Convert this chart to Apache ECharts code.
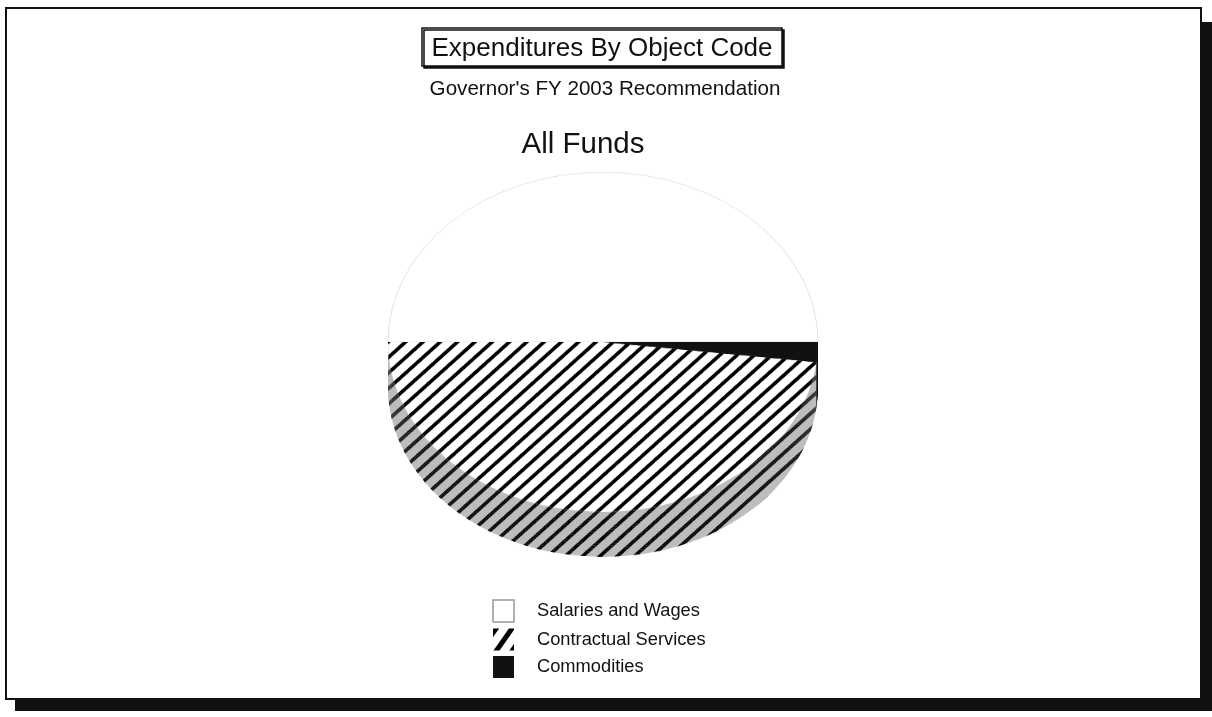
<!DOCTYPE html>
<html>
<head>
<meta charset="utf-8">
<script src="https://cdn.jsdelivr.net/npm/echarts@6/dist/echarts.min.js"></script>
<style>
  html, body { margin: 0; padding: 0; background: #fff; }
  #main { position: absolute; left: 0; top: 0; width: 1212px; height: 717px; }
  /* the pie is drawn round, then flattened into a tilted disc */
  #pie { position: absolute; left: 303px; top: 105px; width: 600px; height: 600px;
         transform: scaleY(0.79); transform-origin: 0 0; }
</style>
</head>
<body>
<div id="main"></div>
<div id="pie"></div>
<script>
// ---- data ----
const categories = ['Salaries and Wages', 'Contractual Services', 'Commodities'];
const shares = [50.0, 48.1, 1.9];   // percent of all funds
const titleText = 'Expenditures By Object Code';
const subtitleText = "Governor's FY 2003 Recommendation";
const fundLabel = 'All Funds';

const FONT = 'Liberation Sans, Arial, sans-serif';

function stripes(angleDeg, thick, gap) {
  return {
    symbol: 'rect', symbolSize: 1, color: '#000',
    dashArrayX: [1, 0], dashArrayY: [thick, gap],
    rotation: -angleDeg * Math.PI / 180
  };
}

// ---- frame, titles and legend ----
const main = echarts.init(document.getElementById('main'), null, { renderer: 'canvas' });

const legendData = categories.map((name, i) => {
  const styles = [
    { color: '#fff', borderColor: '#b0b0b0', borderWidth: 1 },
    { color: '#fff', decal: stripes(55, 5, 8) },
    { color: '#111' }
  ];
  return { name, value: shares[i], itemStyle: styles[i] };
});

main.setOption({
  animation: false,
  graphic: [
    { type: 'rect', z: -10, shape: { x: 15, y: 22, width: 1200, height: 689 }, style: { fill: '#111' } },
    { type: 'rect', z: -9, shape: { x: 6, y: 8, width: 1195, height: 691 },
      style: { fill: '#fff', stroke: '#111', lineWidth: 2 } }
  ],
  title: [
    { text: titleText, left: 592, top: 28, textAlign: 'center',
      padding: [8, 10, 4, 10], borderColor: '#111', borderWidth: 1.5, backgroundColor: '#fff',
      shadowColor: '#111', shadowOffsetX: 2, shadowOffsetY: 2, shadowBlur: 0,
      textStyle: { fontFamily: FONT, fontSize: 26, fontWeight: 'normal', color: '#111' } },
    { text: subtitleText, left: 600, top: 74, textAlign: 'center',
      textStyle: { fontFamily: FONT, fontSize: 20.6, fontWeight: 'normal', color: '#111' } },
    { text: fundLabel, left: 578, top: 125, textAlign: 'center',
      textStyle: { fontFamily: FONT, fontSize: 29.5, fontWeight: 'normal', color: '#111' } }
  ],
  legend: {
    orient: 'vertical', left: 487, top: 594,
    itemWidth: 21, itemHeight: 22, itemGap: 5.5, icon: 'rect',
    textStyle: { fontFamily: FONT, fontSize: 18.3, color: '#111', padding: [0, 0, 0, 18] },
    data: categories
  },
  series: [{
    type: 'pie', radius: 0, center: [603, 342], silent: true,
    label: { show: false }, labelLine: { show: false },
    data: legendData
  }]
});

// ---- tilted 3D pie: stacked side wall layers plus the top face ----
const pie = echarts.init(document.getElementById('pie'), null, { renderer: 'canvas' });
const R = 215, CX = 300, CY = 300, DEPTH = 57;
const HATCH_ANGLE = 48.7;

function layer(offset, top) {
  const styles = top
    ? [
        { color: '#fff', borderColor: '#e2e2e2', borderWidth: 1 },
        { color: '#fff', borderWidth: 0, decal: stripes(HATCH_ANGLE, 4, 9) },
        { color: '#111', borderWidth: 0 }
      ]
    : [
        { color: '#fff', borderWidth: 0 },
        { color: '#bdbdbd', borderWidth: 0, decal: stripes(HATCH_ANGLE, 4, 9) },
        { color: '#111', borderWidth: 0 }
      ];
  return {
    type: 'pie', silent: true, clockwise: false, startAngle: 0,
    center: [CX, CY + offset], radius: R,
    label: { show: false }, labelLine: { show: false },
    emphasis: { disabled: true },
    data: categories.map((name, i) => ({ name, value: shares[i], itemStyle: styles[i] }))
  };
}

const layers = [];
for (let off = DEPTH; off > 0; off -= 2) layers.push(layer(off, false));
layers.push(layer(0, true));

pie.setOption({ animation: false, series: layers });
</script>
</body>
</html>
